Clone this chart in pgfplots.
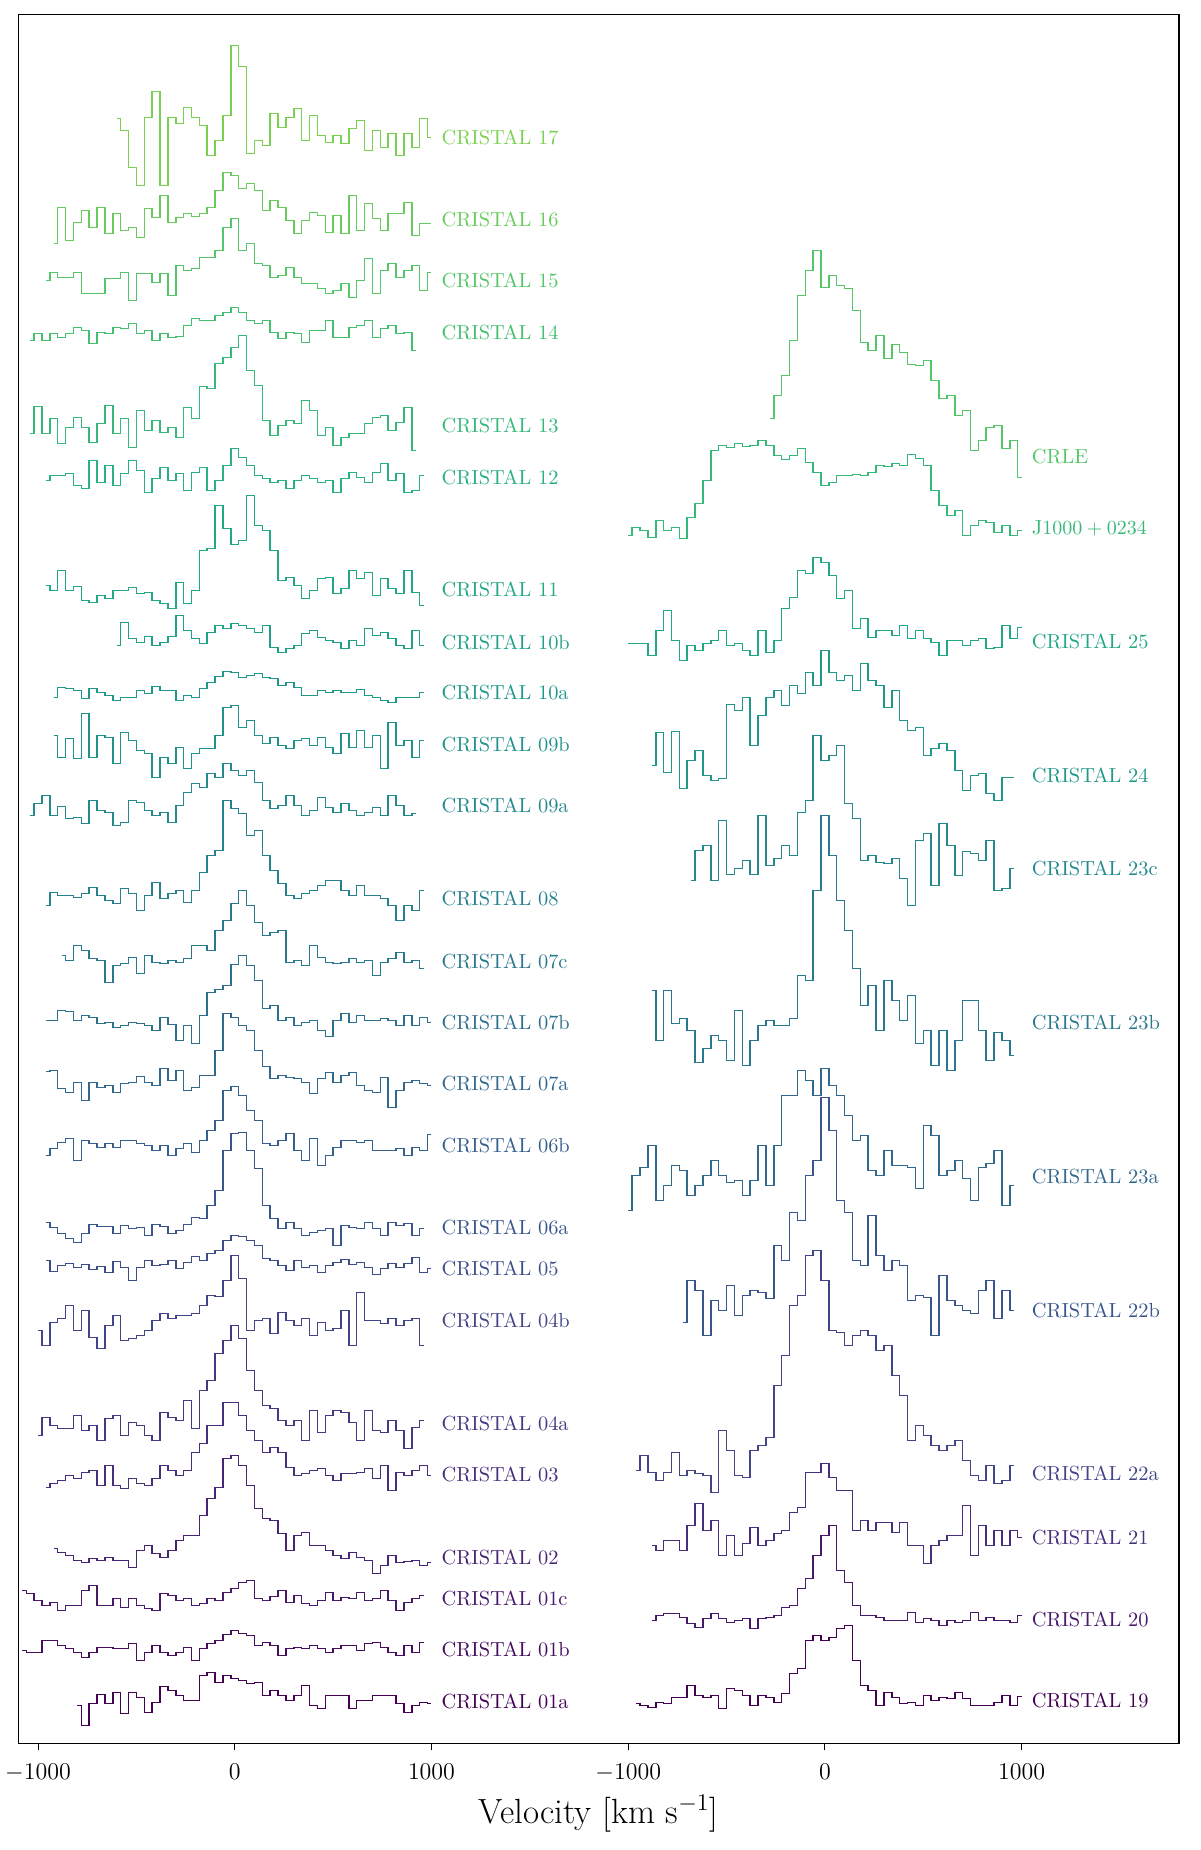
\documentclass[border=0pt]{standalone}
\usepackage{pgfplots}
\pgfplotsset{compat=1.18}
% viridis samples, one per spectrum (left column 01a..17, right column 19..CRLE)
\definecolor{c01a}{HTML}{440154}
\definecolor{c01b}{HTML}{460D5F}
\definecolor{c01c}{HTML}{47196B}
\definecolor{c02}{HTML}{482475}
\definecolor{c03}{HTML}{462F7D}
\definecolor{c04a}{HTML}{443982}
\definecolor{c04b}{HTML}{414487}
\definecolor{c05}{HTML}{3D4D8A}
\definecolor{c06a}{HTML}{39568C}
\definecolor{c06b}{HTML}{355F8D}
\definecolor{c07a}{HTML}{31688E}
\definecolor{c07b}{HTML}{2D708E}
\definecolor{c07c}{HTML}{2A788E}
\definecolor{c08}{HTML}{26808E}
\definecolor{c09a}{HTML}{24888D}
\definecolor{c09b}{HTML}{21918C}
\definecolor{c10a}{HTML}{1F988A}
\definecolor{c10b}{HTML}{1FA087}
\definecolor{c11}{HTML}{22A884}
\definecolor{c12}{HTML}{2BB07F}
\definecolor{c13}{HTML}{36B878}
\definecolor{c14}{HTML}{44BF70}
\definecolor{c15}{HTML}{55C667}
\definecolor{c16}{HTML}{67CC5C}
\definecolor{c17}{HTML}{7AD151}
\definecolor{c19}{HTML}{440154}
\definecolor{c20}{HTML}{47196B}
\definecolor{c21}{HTML}{462F7D}
\definecolor{c22a}{HTML}{414487}
\definecolor{c22b}{HTML}{39568C}
\definecolor{c23a}{HTML}{31688E}
\definecolor{c23b}{HTML}{2A788E}
\definecolor{c23c}{HTML}{24888D}
\definecolor{c24}{HTML}{1F988A}
\definecolor{c25}{HTML}{22A884}
\definecolor{cJ}{HTML}{36B878}
\definecolor{cCRLE}{HTML}{55C667}
\tikzset{lbl/.style={anchor=west, inner sep=0pt, font=\fontsize{10.2}{12}\selectfont}}

\begin{document}
\begin{tikzpicture}
\useasboundingbox (0,0) rectangle (600pt,925pt);
\begin{axis}[
    at={(9.2pt,53.35pt)}, anchor=south west,
    scale only axis, width=580.3pt, height=864.3pt,
    xmin=-1100, xmax=4800, ymin=0, ymax=1728.6,
    xtick={-1000,0,1000,2000,3000,4000},
    xticklabels={$-1000$,$0$,$1000$,$-1000$,$0$,$1000$},
    ytick=\empty,
    xtick pos=left, tick align=outside,
    major tick length=3.5pt,
    tick style={black, line width=0.5pt},
    axis line style={line width=0.6pt},
    xticklabel style={font=\fontsize{11.6}{13}\selectfont, yshift=-3.5pt},
    xlabel={Velocity [km s$^{-1}$]},
    xlabel style={font=\fontsize{17.5}{20}\selectfont, at={(axis description cs:0.5,0)}, anchor=base, yshift=-40pt},
    every axis plot/.append style={const plot mark mid, line width=0.75pt},
    clip=false,
]
% ---------------- left column ----------------
\addplot[c17] coordinates {(-600,1625) (-560,1613) (-520,1576) (-480,1558) (-440,1626) (-400,1652) (-360,1558) (-320,1626) (-280,1620) (-240,1636) (-200,1626) (-160,1618) (-120,1588) (-80,1603) (-40,1628) (0,1698) (40,1677) (80,1590) (120,1603) (160,1598) (200,1630) (240,1616) (280,1626) (320,1635) (360,1603) (400,1628) (440,1608) (480,1601) (520,1608) (560,1600) (600,1615) (640,1623) (680,1593) (720,1613) (760,1596) (800,1610) (840,1588) (880,1610) (920,1596) (960,1625) (1000,1606)};
\addplot[c16] coordinates {(-920,1500) (-880,1536) (-840,1503) (-800,1521) (-760,1533) (-720,1516) (-680,1536) (-640,1510) (-600,1530) (-560,1513) (-520,1516) (-480,1506) (-440,1535) (-400,1526) (-360,1548) (-320,1521) (-280,1526) (-240,1530) (-200,1527) (-160,1530) (-120,1536) (-80,1553) (-40,1571) (0,1568) (40,1555) (80,1560) (120,1553) (160,1533) (200,1543) (240,1536) (280,1523) (320,1510) (360,1523) (400,1531) (440,1528) (480,1511) (520,1528) (560,1510) (600,1548) (640,1513) (680,1540) (720,1525) (760,1513) (800,1530) (840,1530) (880,1541) (920,1508) (960,1520) (1000,1520)};
\addplot[c15] coordinates {(-960,1463) (-920,1471) (-880,1466) (-840,1466) (-800,1471) (-760,1450) (-720,1450) (-680,1450) (-640,1465) (-600,1465) (-560,1471) (-520,1443) (-480,1470) (-440,1470) (-400,1461) (-360,1470) (-320,1448) (-280,1478) (-240,1473) (-200,1475) (-160,1486) (-120,1486) (-80,1493) (-40,1516) (0,1525) (40,1493) (80,1500) (120,1480) (160,1478) (200,1466) (240,1468) (280,1476) (320,1466) (360,1460) (400,1460) (440,1455) (480,1450) (520,1453) (560,1460) (600,1446) (640,1463) (680,1485) (720,1450) (760,1473) (800,1480) (840,1466) (880,1473) (920,1478) (960,1453) (1000,1471)};
\addplot[c14] coordinates {(-1040,1403) (-1000,1410) (-960,1403) (-920,1410) (-880,1406) (-840,1410) (-800,1416) (-760,1413) (-720,1400) (-680,1411) (-640,1410) (-600,1416) (-560,1415) (-520,1420) (-480,1410) (-440,1413) (-400,1403) (-360,1410) (-320,1406) (-280,1407) (-240,1418) (-200,1425) (-160,1423) (-120,1423) (-80,1428) (-40,1431) (0,1436) (40,1431) (80,1423) (120,1420) (160,1423) (200,1411) (240,1405) (280,1411) (320,1410) (360,1401) (400,1413) (440,1413) (480,1423) (520,1406) (560,1406) (600,1416) (640,1418) (680,1423) (720,1406) (760,1415) (800,1418) (840,1410) (880,1411) (920,1393)};
\addplot[c13] coordinates {(-1040,1310) (-1000,1337) (-960,1310) (-920,1325) (-880,1300) (-840,1316) (-800,1326) (-760,1316) (-720,1301) (-680,1320) (-640,1338) (-600,1310) (-560,1325) (-520,1296) (-480,1333) (-440,1313) (-400,1323) (-360,1311) (-320,1316) (-280,1306) (-240,1336) (-200,1325) (-160,1357) (-120,1355) (-80,1380) (-40,1386) (0,1396) (40,1408) (80,1373) (120,1358) (160,1323) (200,1308) (240,1318) (280,1323) (320,1320) (360,1343) (400,1333) (440,1308) (480,1316) (520,1298) (560,1306) (600,1310) (640,1310) (680,1320) (720,1326) (760,1328) (800,1313) (840,1321) (880,1336) (920,1293)};
\addplot[c12] coordinates {(-960,1263) (-920,1268) (-880,1268) (-840,1270) (-800,1258) (-760,1255) (-720,1283) (-680,1261) (-640,1278) (-600,1258) (-560,1270) (-520,1283) (-480,1273) (-440,1251) (-400,1265) (-360,1276) (-320,1263) (-280,1270) (-240,1253) (-200,1271) (-160,1276) (-120,1253) (-80,1263) (-40,1278) (0,1295) (40,1286) (80,1278) (120,1268) (160,1265) (200,1261) (240,1263) (280,1255) (320,1263) (360,1268) (400,1265) (440,1261) (480,1263) (520,1251) (560,1265) (600,1271) (640,1266) (680,1261) (720,1271) (760,1280) (800,1263) (840,1270) (880,1251) (920,1253) (960,1268)};
\addplot[c11] coordinates {(-960,1158) (-920,1153) (-880,1173) (-840,1153) (-800,1157) (-760,1143) (-720,1141) (-680,1148) (-640,1145) (-600,1153) (-560,1153) (-520,1156) (-480,1150) (-440,1151) (-400,1143) (-360,1140) (-320,1135) (-280,1161) (-240,1140) (-200,1153) (-160,1193) (-120,1195) (-80,1238) (-40,1215) (0,1199) (40,1203) (80,1248) (120,1218) (160,1213) (200,1193) (240,1163) (280,1166) (320,1158) (360,1145) (400,1153) (440,1165) (480,1166) (520,1150) (560,1155) (600,1173) (640,1165) (680,1171) (720,1148) (760,1165) (800,1155) (840,1150) (880,1173) (920,1151) (960,1138)};
\addplot[c10b] coordinates {(-600,1098) (-560,1121) (-520,1105) (-480,1101) (-440,1107) (-400,1098) (-360,1101) (-320,1107) (-280,1128) (-240,1113) (-200,1105) (-160,1100) (-120,1111) (-80,1118) (-40,1115) (0,1120) (40,1118) (80,1115) (120,1111) (160,1118) (200,1096) (240,1091) (280,1095) (320,1098) (360,1110) (400,1113) (440,1106) (480,1103) (520,1101) (560,1095) (600,1103) (640,1098) (680,1115) (720,1108) (760,1111) (800,1105) (840,1098) (880,1095) (920,1113) (960,1098)};
\addplot[c10a] coordinates {(-920,1046) (-880,1056) (-840,1055) (-800,1053) (-760,1045) (-720,1055) (-680,1051) (-640,1048) (-600,1043) (-560,1046) (-520,1046) (-480,1053) (-440,1050) (-400,1057) (-360,1053) (-320,1053) (-280,1043) (-240,1048) (-200,1046) (-160,1055) (-120,1061) (-80,1067) (-40,1072) (0,1071) (40,1066) (80,1068) (120,1070) (160,1066) (200,1065) (240,1058) (280,1061) (320,1056) (360,1048) (400,1048) (440,1053) (480,1051) (520,1053) (560,1051) (600,1051) (640,1054) (680,1048) (720,1046) (760,1043) (800,1041) (840,1046) (880,1046) (920,1046) (960,1051)};
\addplot[c09b] coordinates {(-920,1008) (-880,986) (-840,1005) (-800,985) (-760,1030) (-720,986) (-680,1008) (-640,1006) (-600,980) (-560,1011) (-520,1003) (-480,993) (-440,990) (-400,966) (-360,986) (-320,980) (-280,996) (-240,975) (-200,990) (-160,995) (-120,995) (-80,1008) (-40,1036) (0,1038) (40,1016) (80,1023) (120,1008) (160,1000) (200,1006) (240,998) (280,995) (320,1003) (360,1005) (400,998) (440,1006) (480,996) (520,990) (560,1010) (600,996) (640,1013) (680,996) (720,1008) (760,975) (800,1021) (840,998) (880,1003) (920,986) (960,1003)};
\addplot[c09a] coordinates {(-1040,928) (-1000,940) (-960,948) (-920,928) (-880,937) (-840,925) (-800,926) (-760,920) (-720,943) (-680,933) (-640,931) (-600,918) (-560,921) (-520,943) (-480,941) (-440,933) (-400,928) (-360,931) (-320,921) (-280,938) (-240,951) (-200,960) (-160,956) (-120,970) (-80,966) (-40,980) (0,973) (40,968) (80,973) (120,961) (160,943) (200,935) (240,938) (280,948) (320,938) (360,928) (400,933) (440,946) (480,936) (520,931) (560,940) (600,933) (640,928) (680,931) (720,936) (760,928) (800,948) (840,938) (880,928) (920,930)};
\addplot[c08] coordinates {(-960,838) (-920,851) (-880,848) (-840,848) (-800,846) (-760,850) (-720,856) (-680,848) (-640,843) (-600,840) (-560,855) (-520,850) (-480,833) (-440,848) (-400,861) (-360,845) (-320,850) (-280,853) (-240,841) (-200,853) (-160,871) (-120,888) (-80,893) (-40,943) (0,935) (40,930) (80,908) (120,913) (160,888) (200,873) (240,860) (280,848) (320,845) (360,850) (400,853) (440,858) (480,863) (520,863) (560,853) (600,848) (640,858) (680,848) (720,848) (760,845) (800,838) (840,823) (880,838) (920,833) (960,853)};
\addplot[c07c] coordinates {(-880,788) (-840,783) (-800,798) (-760,793) (-720,785) (-680,783) (-640,761) (-600,778) (-560,780) (-520,786) (-480,770) (-440,788) (-400,781) (-360,780) (-320,783) (-280,781) (-240,785) (-200,798) (-160,798) (-120,793) (-80,813) (-40,823) (0,840) (40,853) (80,838) (120,821) (160,808) (200,811) (240,813) (280,781) (320,783) (360,778) (400,798) (440,786) (480,781) (520,780) (560,781) (600,785) (640,781) (680,783) (720,768) (760,781) (800,785) (840,791) (880,781) (920,783) (960,775)};
\addplot[c07b] coordinates {(-960,723) (-920,723) (-880,733) (-840,732) (-800,723) (-760,728) (-720,726) (-680,720) (-640,721) (-600,716) (-560,718) (-520,721) (-480,720) (-440,718) (-400,713) (-360,726) (-320,719) (-280,703) (-240,718) (-200,700) (-160,728) (-120,751) (-80,754) (-40,758) (0,779) (40,788) (80,778) (120,763) (160,735) (200,738) (240,723) (280,726) (320,718) (360,721) (400,723) (440,713) (480,707) (520,723) (560,730) (600,721) (640,728) (680,723) (720,723) (760,725) (800,723) (840,718) (880,728) (920,718) (960,726) (1000,721)};
\addplot[c07a] coordinates {(-960,672) (-920,673) (-880,655) (-840,651) (-800,661) (-760,643) (-720,661) (-680,656) (-640,658) (-600,651) (-560,660) (-520,661) (-480,667) (-440,661) (-400,658) (-360,675) (-320,663) (-280,673) (-240,653) (-200,656) (-160,668) (-120,668) (-80,693) (-40,730) (0,726) (40,718) (80,713) (120,693) (160,677) (200,665) (240,668) (280,666) (320,665) (360,661) (400,650) (440,665) (480,671) (520,661) (560,668) (600,671) (640,658) (680,653) (720,651) (760,666) (800,636) (840,653) (880,661) (920,663) (960,660) (1000,658)};
\addplot[c06b] coordinates {(-960,588) (-920,595) (-880,601) (-840,605) (-800,583) (-760,603) (-720,600) (-680,596) (-640,600) (-600,596) (-560,603) (-520,603) (-480,600) (-440,598) (-400,593) (-360,598) (-320,588) (-280,595) (-240,600) (-200,591) (-160,603) (-120,613) (-80,623) (-40,653) (0,657) (40,648) (80,633) (120,623) (160,600) (200,598) (240,603) (280,610) (320,593) (360,583) (400,605) (440,578) (480,588) (520,596) (560,603) (600,603) (640,601) (680,603) (720,593) (760,593) (800,593) (840,595) (880,588) (920,596) (960,593) (1000,609)};
\addplot[c06a] coordinates {(-960,521) (-920,516) (-880,510) (-840,505) (-800,501) (-760,510) (-720,519) (-680,517) (-640,517) (-600,510) (-560,518) (-520,515) (-480,516) (-440,508) (-400,519) (-360,517) (-320,510) (-280,513) (-240,519) (-200,526) (-160,525) (-120,538) (-80,553) (-40,593) (0,610) (40,611) (80,593) (120,575) (160,538) (200,525) (240,515) (280,521) (320,515) (360,508) (400,511) (440,513) (480,515) (520,498) (560,518) (600,516) (640,515) (680,521) (720,515) (760,508) (800,521) (840,518) (880,520) (920,508) (960,515)};
\addplot[c05] coordinates {(-960,483) (-920,472) (-880,478) (-840,480) (-800,476) (-760,479) (-720,474) (-680,477) (-640,471) (-600,482) (-560,476) (-520,463) (-480,476) (-440,483) (-400,478) (-360,479) (-320,483) (-280,475) (-240,481) (-200,487) (-160,483) (-120,490) (-80,493) (-40,503) (0,508) (40,507) (80,503) (120,498) (160,485) (200,483) (240,478) (280,473) (320,483) (360,476) (400,478) (440,471) (480,478) (520,481) (560,484) (600,479) (640,481) (680,476) (720,469) (760,475) (800,480) (840,476) (880,480) (920,486) (960,471) (1000,475)};
\addplot[c04b] coordinates {(-1000,413) (-960,398) (-920,421) (-880,425) (-840,438) (-800,413) (-760,433) (-720,406) (-680,395) (-640,418) (-600,428) (-560,403) (-520,405) (-480,408) (-440,413) (-400,423) (-360,430) (-320,425) (-280,428) (-240,428) (-200,430) (-160,438) (-120,448) (-80,447) (-40,463) (0,488) (40,465) (80,413) (120,423) (160,425) (200,410) (240,431) (280,423) (320,418) (360,425) (400,408) (440,421) (480,413) (520,415) (560,433) (600,398) (640,451) (680,423) (720,423) (760,420) (800,425) (840,418) (880,423) (920,425) (960,398)};
\addplot[c04a] coordinates {(-1000,308) (-960,326) (-920,318) (-880,315) (-840,315) (-800,328) (-760,313) (-720,318) (-680,303) (-640,325) (-600,328) (-560,308) (-520,321) (-480,318) (-440,308) (-400,303) (-360,331) (-320,326) (-280,323) (-240,343) (-200,315) (-160,353) (-120,363) (-80,390) (-40,403) (0,418) (40,405) (80,373) (120,353) (160,338) (200,335) (240,323) (280,318) (320,323) (360,303) (400,333) (440,311) (480,328) (520,333) (560,331) (600,321) (640,303) (680,333) (720,313) (760,311) (800,323) (840,313) (880,295) (920,316) (960,323)};
\addplot[c03] coordinates {(-960,256) (-920,260) (-880,263) (-840,268) (-800,265) (-760,271) (-720,273) (-680,258) (-640,278) (-600,258) (-560,255) (-520,265) (-480,260) (-440,258) (-400,265) (-360,278) (-320,273) (-280,268) (-240,273) (-200,291) (-160,300) (-120,318) (-80,318) (-40,341) (0,341) (40,328) (80,313) (120,303) (160,291) (200,296) (240,291) (280,276) (320,268) (360,270) (400,273) (440,275) (480,268) (520,263) (560,270) (600,270) (640,271) (680,275) (720,265) (760,278) (800,253) (840,271) (880,268) (920,273) (960,278) (1000,268)};
\addplot[c02] coordinates {(-920,195) (-880,191) (-840,188) (-800,183) (-760,181) (-720,185) (-680,183) (-640,186) (-600,183) (-560,183) (-520,176) (-480,193) (-440,198) (-400,190) (-360,186) (-320,193) (-280,203) (-240,208) (-200,208) (-160,228) (-120,245) (-80,256) (-40,285) (0,288) (40,278) (80,258) (120,235) (160,225) (200,223) (240,210) (280,193) (320,208) (360,211) (400,198) (440,198) (480,193) (520,188) (560,185) (600,191) (640,186) (680,183) (720,170) (760,178) (800,188) (840,181) (880,182) (920,183) (960,178) (1000,181)};
\addplot[c01c] coordinates {(-1080,153) (-1040,150) (-1000,143) (-960,138) (-920,141) (-880,133) (-840,138) (-800,138) (-760,153) (-720,158) (-680,138) (-640,138) (-600,145) (-560,136) (-520,145) (-480,138) (-440,135) (-400,133) (-360,150) (-320,148) (-280,143) (-240,145) (-200,138) (-160,140) (-120,145) (-80,143) (-40,151) (0,155) (40,161) (80,163) (120,145) (160,143) (200,147) (240,153) (280,141) (320,148) (360,140) (400,138) (440,143) (480,151) (520,143) (560,146) (600,145) (640,151) (680,143) (720,145) (760,153) (800,143) (840,133) (880,141) (920,145) (960,148)};
\addplot[c01b] coordinates {(-1080,93) (-1040,91) (-1000,91) (-960,103) (-920,103) (-880,98) (-840,95) (-800,91) (-760,86) (-720,91) (-680,96) (-640,96) (-600,95) (-560,95) (-520,100) (-480,83) (-440,91) (-400,98) (-360,91) (-320,88) (-280,91) (-240,96) (-200,83) (-160,95) (-120,100) (-80,103) (-40,109) (0,113) (40,110) (80,108) (120,98) (160,101) (200,98) (240,88) (280,95) (320,96) (360,95) (400,98) (440,95) (480,91) (520,95) (560,98) (600,98) (640,93) (680,100) (720,101) (760,96) (800,91) (840,88) (880,98) (920,91) (960,101)};
\addplot[c01a] coordinates {(-800,38) (-760,18) (-720,40) (-680,49) (-640,40) (-600,51) (-560,30) (-520,51) (-480,46) (-440,31) (-400,41) (-360,57) (-320,53) (-280,48) (-240,43) (-200,43) (-160,68) (-120,71) (-80,61) (-40,68) (0,65) (40,63) (80,60) (120,61) (160,48) (200,53) (240,48) (280,43) (320,48) (360,58) (400,38) (440,35) (480,48) (520,48) (560,48) (600,35) (640,43) (680,43) (720,48) (760,48) (800,48) (840,40) (880,31) (920,38) (960,41) (1000,40)};
% ---------------- right column (velocity + 3000) ----------------
\addplot[cCRLE] coordinates {(2720,1325) (2760,1348) (2800,1368) (2840,1403) (2880,1448) (2920,1473) (2960,1493) (3000,1456) (3040,1468) (3080,1458) (3120,1455) (3160,1433) (3200,1401) (3240,1393) (3280,1408) (3320,1385) (3360,1399) (3400,1391) (3440,1379) (3480,1378) (3520,1383) (3560,1363) (3600,1345) (3640,1348) (3680,1328) (3720,1333) (3760,1293) (3800,1303) (3840,1316) (3880,1318) (3920,1295) (3960,1303) (4000,1266)};
\addplot[cJ] coordinates {(2000,1208) (2040,1216) (2080,1213) (2120,1206) (2160,1223) (2200,1213) (2240,1216) (2280,1205) (2320,1226) (2360,1240) (2400,1263) (2440,1293) (2480,1298) (2520,1296) (2560,1300) (2600,1297) (2640,1298) (2680,1303) (2720,1298) (2760,1288) (2800,1284) (2840,1288) (2880,1295) (2920,1281) (2960,1271) (3000,1258) (3040,1261) (3080,1268) (3120,1268) (3160,1269) (3200,1268) (3240,1271) (3280,1278) (3320,1277) (3360,1280) (3400,1278) (3440,1289) (3480,1285) (3520,1278) (3560,1253) (3600,1238) (3640,1228) (3680,1233) (3720,1208) (3760,1218) (3800,1223) (3840,1221) (3880,1211) (3920,1218) (3960,1208) (4000,1213)};
\addplot[c25] coordinates {(2000,1100) (2040,1100) (2080,1100) (2120,1088) (2160,1113) (2200,1133) (2240,1103) (2280,1083) (2320,1098) (2360,1093) (2400,1100) (2440,1103) (2480,1113) (2520,1098) (2560,1100) (2600,1093) (2640,1088) (2680,1113) (2720,1091) (2760,1103) (2800,1135) (2840,1146) (2880,1173) (2920,1170) (2960,1186) (3000,1181) (3040,1168) (3080,1145) (3120,1153) (3160,1115) (3200,1125) (3240,1106) (3280,1113) (3320,1113) (3360,1108) (3400,1118) (3440,1105) (3480,1113) (3520,1105) (3560,1101) (3600,1088) (3640,1103) (3680,1103) (3720,1098) (3760,1103) (3800,1105) (3840,1095) (3880,1096) (3920,1118) (3960,1105) (4000,1116)};
\addplot[c24] coordinates {(2120,978) (2160,1011) (2200,971) (2240,1012) (2280,955) (2320,983) (2360,993) (2400,968) (2440,963) (2480,965) (2520,1039) (2560,1033) (2600,1046) (2640,998) (2680,1028) (2720,1046) (2760,1053) (2800,1038) (2840,1058) (2880,1050) (2920,1071) (2960,1058) (3000,1093) (3040,1071) (3080,1063) (3120,1068) (3160,1053) (3200,1080) (3240,1063) (3280,1058) (3320,1036) (3360,1053) (3400,1023) (3440,1013) (3480,1016) (3520,988) (3560,995) (3600,1000) (3640,993) (3680,973) (3720,953) (3760,968) (3800,970) (3840,950) (3880,943) (3920,966) (3960,966)};
\addplot[c23c] coordinates {(2320,863) (2360,893) (2400,898) (2440,863) (2480,923) (2520,869) (2560,875) (2600,883) (2640,869) (2680,928) (2720,878) (2760,885) (2800,898) (2840,888) (2880,931) (2920,943) (2960,1008) (3000,983) (3040,988) (3080,998) (3120,940) (3160,925) (3200,883) (3240,888) (3280,881) (3320,880) (3360,885) (3400,865) (3440,838) (3480,903) (3520,910) (3560,858) (3600,920) (3640,898) (3680,868) (3720,892) (3760,890) (3800,883) (3840,903) (3880,853) (3920,855) (3960,875)};
\addplot[c23b] coordinates {(2120,753) (2160,703) (2200,753) (2240,720) (2280,725) (2320,713) (2360,681) (2400,695) (2440,708) (2480,703) (2520,683) (2560,733) (2600,678) (2640,703) (2680,718) (2720,723) (2760,718) (2800,718) (2840,725) (2880,768) (2920,763) (2960,853) (3000,928) (3040,888) (3080,843) (3120,813) (3160,775) (3200,738) (3240,758) (3280,713) (3320,763) (3360,743) (3400,723) (3440,748) (3480,700) (3520,713) (3560,678) (3600,713) (3640,673) (3680,703) (3720,743) (3760,743) (3800,713) (3840,683) (3880,711) (3920,703) (3960,688)};
\addplot[c23a] coordinates {(2000,533) (2040,568) (2080,576) (2120,598) (2160,543) (2200,558) (2240,578) (2280,573) (2320,548) (2360,558) (2400,568) (2440,583) (2480,568) (2520,561) (2560,563) (2600,548) (2640,563) (2680,598) (2720,558) (2760,598) (2800,648) (2840,648) (2880,673) (2920,663) (2960,648) (3000,675) (3040,658) (3080,648) (3120,628) (3160,603) (3200,608) (3240,573) (3280,568) (3320,593) (3360,578) (3400,578) (3440,576) (3480,555) (3520,618) (3560,608) (3600,568) (3640,573) (3680,583) (3720,565) (3760,543) (3800,576) (3840,580) (3880,593) (3920,538) (3960,558)};
\addplot[c22b] coordinates {(2280,421) (2320,463) (2360,453) (2400,408) (2440,443) (2480,433) (2520,458) (2560,428) (2600,448) (2640,453) (2680,451) (2720,445) (2760,498) (2800,483) (2840,531) (2880,523) (2920,568) (2960,583) (3000,646) (3040,613) (3080,543) (3120,531) (3160,483) (3200,478) (3240,528) (3280,488) (3320,473) (3360,483) (3400,478) (3440,443) (3480,448) (3520,446) (3560,408) (3600,468) (3640,443) (3680,438) (3720,433) (3760,430) (3800,453) (3840,463) (3880,425) (3920,453) (3960,433)};
\addplot[c22a] coordinates {(2040,273) (2080,288) (2120,271) (2160,263) (2200,271) (2240,291) (2280,268) (2320,273) (2360,270) (2400,268) (2440,251) (2480,313) (2520,293) (2560,268) (2600,266) (2640,293) (2680,298) (2720,306) (2760,358) (2800,388) (2840,438) (2880,448) (2920,488) (2960,493) (3000,463) (3040,413) (3080,411) (3120,398) (3160,408) (3200,413) (3240,408) (3280,393) (3320,398) (3360,368) (3400,348) (3440,303) (3480,318) (3520,308) (3560,298) (3600,293) (3640,298) (3680,303) (3720,283) (3760,268) (3800,263) (3840,278) (3880,260) (3920,263) (3960,278)};
\addplot[c21] coordinates {(2120,198) (2160,193) (2200,203) (2240,203) (2280,193) (2320,218) (2360,240) (2400,213) (2440,223) (2480,188) (2520,208) (2560,188) (2600,200) (2640,216) (2680,198) (2720,203) (2760,210) (2800,213) (2840,231) (2880,236) (2920,271) (2960,271) (3000,280) (3040,266) (3080,253) (3120,253) (3160,213) (3200,223) (3240,213) (3280,221) (3320,221) (3360,211) (3400,221) (3440,198) (3480,198) (3520,180) (3560,198) (3600,203) (3640,208) (3680,208) (3720,238) (3760,188) (3800,218) (3840,198) (3880,213) (3920,198) (3960,213) (4000,206)};
\addplot[c20] coordinates {(2120,123) (2160,128) (2200,130) (2240,130) (2280,126) (2320,120) (2360,116) (2400,125) (2440,130) (2480,125) (2520,121) (2560,123) (2600,125) (2640,115) (2680,125) (2720,126) (2760,128) (2800,136) (2840,138) (2880,155) (2920,165) (2960,188) (3000,208) (3040,218) (3080,173) (3120,161) (3160,138) (3200,128) (3240,128) (3280,126) (3320,123) (3360,123) (3400,123) (3440,131) (3480,121) (3520,125) (3560,123) (3600,118) (3640,123) (3680,121) (3720,123) (3760,131) (3800,123) (3840,126) (3880,123) (3920,123) (3960,121) (4000,128)};
\addplot[c19] coordinates {(2040,40) (2080,38) (2120,36) (2160,41) (2200,40) (2240,46) (2280,46) (2320,58) (2360,48) (2400,46) (2440,48) (2480,35) (2520,55) (2560,53) (2600,48) (2640,38) (2680,48) (2720,46) (2760,41) (2800,50) (2840,70) (2880,75) (2920,103) (2960,108) (3000,103) (3040,106) (3080,115) (3120,118) (3160,83) (3200,58) (3240,53) (3280,38) (3320,51) (3360,46) (3400,40) (3440,41) (3480,38) (3520,48) (3560,43) (3600,46) (3640,45) (3680,51) (3720,45) (3760,38) (3800,38) (3840,38) (3880,41) (3920,48) (3960,38) (4000,47)};
% ---------------- labels ----------------
\node[lbl, text=c17] at (axis cs:1050,1606) {CRISTAL 17};
\node[lbl, text=c16] at (axis cs:1050,1524) {CRISTAL 16};
\node[lbl, text=c15] at (axis cs:1050,1463) {CRISTAL 15};
\node[lbl, text=c14] at (axis cs:1050,1411) {CRISTAL 14};
\node[lbl, text=c13] at (axis cs:1050,1318) {CRISTAL 13};
\node[lbl, text=c12] at (axis cs:1050,1266) {CRISTAL 12};
\node[lbl, text=c11] at (axis cs:1050,1154) {CRISTAL 11};
\node[lbl, text=c10b] at (axis cs:1050,1101) {CRISTAL 10b};
\node[lbl, text=c10a] at (axis cs:1050,1051) {CRISTAL 10a};
\node[lbl, text=c09b] at (axis cs:1050,999) {CRISTAL 09b};
\node[lbl, text=c09a] at (axis cs:1050,938) {CRISTAL 09a};
\node[lbl, text=c08] at (axis cs:1050,845) {CRISTAL 08};
\node[lbl, text=c07c] at (axis cs:1050,782) {CRISTAL 07c};
\node[lbl, text=c07b] at (axis cs:1050,721) {CRISTAL 07b};
\node[lbl, text=c07a] at (axis cs:1050,660) {CRISTAL 07a};
\node[lbl, text=c06b] at (axis cs:1050,598) {CRISTAL 06b};
\node[lbl, text=c06a] at (axis cs:1050,516) {CRISTAL 06a};
\node[lbl, text=c05] at (axis cs:1050,475) {CRISTAL 05};
\node[lbl, text=c04b] at (axis cs:1050,423) {CRISTAL 04b};
\node[lbl, text=c04a] at (axis cs:1050,320) {CRISTAL 04a};
\node[lbl, text=c03] at (axis cs:1050,269) {CRISTAL 03};
\node[lbl, text=c02] at (axis cs:1050,186) {CRISTAL 02};
\node[lbl, text=c01c] at (axis cs:1050,145) {CRISTAL 01c};
\node[lbl, text=c01b] at (axis cs:1050,94) {CRISTAL 01b};
\node[lbl, text=c01a] at (axis cs:1050,42) {CRISTAL 01a};
\node[lbl, text=cCRLE] at (axis cs:4050,1287) {CRLE};
\node[lbl, text=cJ] at (axis cs:4050,1215) {J$1000+0234$};
\node[lbl, text=c25] at (axis cs:4050,1102) {CRISTAL 25};
\node[lbl, text=c24] at (axis cs:4050,968) {CRISTAL 24};
\node[lbl, text=c23c] at (axis cs:4050,875) {CRISTAL 23c};
\node[lbl, text=c23b] at (axis cs:4050,721) {CRISTAL 23b};
\node[lbl, text=c23a] at (axis cs:4050,567) {CRISTAL 23a};
\node[lbl, text=c22b] at (axis cs:4050,433) {CRISTAL 22b};
\node[lbl, text=c22a] at (axis cs:4050,270) {CRISTAL 22a};
\node[lbl, text=c21] at (axis cs:4050,206) {CRISTAL 21};
\node[lbl, text=c20] at (axis cs:4050,124) {CRISTAL 20};
\node[lbl, text=c19] at (axis cs:4050,43) {CRISTAL 19};
\end{axis}
\end{tikzpicture}
\end{document}
